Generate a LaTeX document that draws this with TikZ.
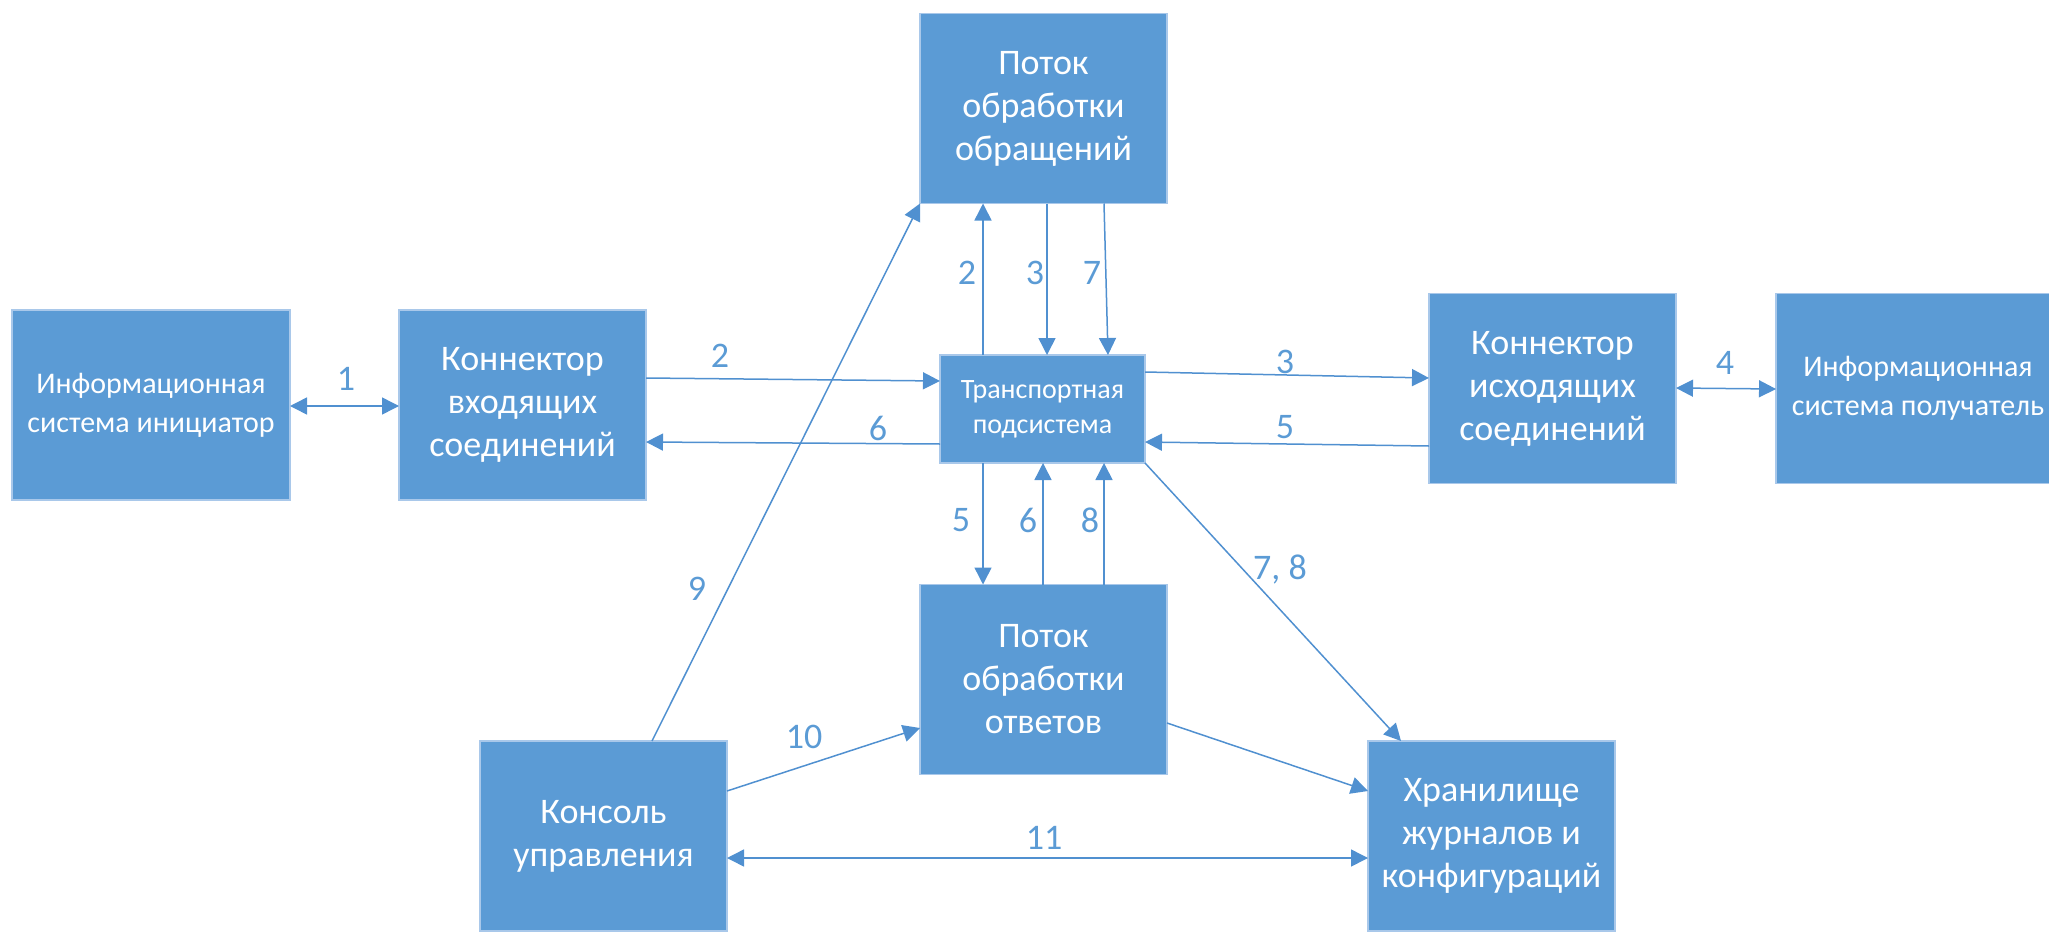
\documentclass[tikz,border=0pt]{standalone}
\usepackage{fontspec}
\setmainfont{Carlito}
\usetikzlibrary{arrows.meta}
\definecolor{boxblue}{HTML}{5B9BD5}
\definecolor{boxedge}{HTML}{A9C8EA}
\definecolor{lineblue}{HTML}{5090D0}
\definecolor{lblblue}{HTML}{5B9BD5}
\tikzset{
  box/.style={draw=boxedge, line width=0.6pt, fill=boxblue, text=white, inner sep=0pt, outer sep=0pt,
    align=center, minimum width=123.5pt, minimum height=95pt, font=\fontsize{18}{21.5}\selectfont},
  sysbox/.style={box, minimum width=139pt, font=\fontsize{15}{19.5}\selectfont},
  trbox/.style={box, minimum width=102.5pt, minimum height=54pt, font=\fontsize{14}{17.5}\selectfont},
  conn/.style={draw=lineblue, line width=0.75pt, -{Triangle[length=8.5pt,width=8.5pt]}},
  dconn/.style={draw=lineblue, line width=0.75pt, {Triangle[length=8.5pt,width=8.5pt]}-{Triangle[length=8.5pt,width=8.5pt]}},
  lbl/.style={text=lblblue, inner sep=0pt, font=\fontsize{18}{21.5}\selectfont}
}
\begin{document}
\begin{tikzpicture}[x=0.5pt,y=-0.5pt]
\useasboundingbox (0,0) rectangle (2049,931);
\clip (0,0) rectangle (2049,931);
% boxes
\node[sysbox] (A) at (151,405) {Информационная\\система инициатор};
\node[box] (B) at (522.5,405) {Коннектор\\входящих\\соединений};
\node[box] (P1) at (1043.5,108.5) {Поток\\обработки\\обращений};
\node[trbox] (T) at (1042.5,409) {Транспортная\\подсистема};
\node[box] (C) at (1552.5,388.5) {Коннектор\\исходящих\\соединений};
\node[sysbox, minimum width=142pt] (D) at (1918,388.5) {Информационная\\система получатель};
\node[box] (P2) at (1043.5,679.5) {Поток\\обработки\\ответов};
\node[box] (K) at (603.5,836) {Консоль\\управления};
\node[box] (H) at (1491.5,836) {Хранилище\\журналов и\\конфигураций};
% connectors
\draw[dconn] (A.east |- 0,406) -- (B.west |- 0,406);
\draw[conn] (B.east |- 0,378) -- (T.west |- 0,381);
\draw[conn] (T.west |- 0,444) -- (B.east |- 0,442);
\draw[conn] (983,0 |- T.north) -- (983,0 |- P1.south);
\draw[conn] (1047,0 |- P1.south) -- (1047,0 |- T.north);
\draw[conn] (1104,0 |- P1.south) -- (1108,0 |- T.north);
\draw[conn] (T.east |- 0,372) -- (C.west |- 0,378);
\draw[conn] (C.west |- 0,446) -- (T.east |- 0,442);
\draw[dconn] (C.east |- 0,388) -- (D.west |- 0,389);
\draw[conn] (983,0 |- T.south) -- (983,0 |- P2.north);
\draw[conn] (1043,0 |- P2.north) -- (1043,0 |- T.south);
\draw[conn] (1104,0 |- P2.north) -- (1104,0 |- T.south);
\draw[conn] (T.south east) -- (1401,0 |- H.north);
\draw[conn] (652,0 |- K.north) -- (P1.south west);
\draw[conn] (K.east |- 0,791) -- (P2.west |- 0,728);
\draw[conn] (P2.east |- 0,723) -- (H.west |- 0,791);
\draw[dconn] (K.east |- 0,858) -- (H.west |- 0,858);
% labels
\node[lbl] (l1) at (346,379) {1};
\node[lbl] (l2a) at (720,356) {2};
\node[lbl] (l6a) at (878,428) {6};
\node[lbl] (l2b) at (967,273) {2};
\node[lbl] (l3a) at (1035,273) {3};
\node[lbl] (l7) at (1092,273) {7};
\node[lbl] (l3b) at (1285,362) {3};
\node[lbl] (l5a) at (1285,427) {5};
\node[lbl] (l4) at (1725,363) {4};
\node[lbl] (l5b) at (961,520) {5};
\node[lbl] (l6b) at (1028,520) {6};
\node[lbl] (l8) at (1090,520) {8};
\node[lbl] (l78) at (1280,569) {7, 8};
\node[lbl] (l9) at (697,589) {9};
\node[lbl] (l10) at (804,737) {10};
\node[lbl] (l11) at (1044,838) {11};
\end{tikzpicture}
\end{document}
